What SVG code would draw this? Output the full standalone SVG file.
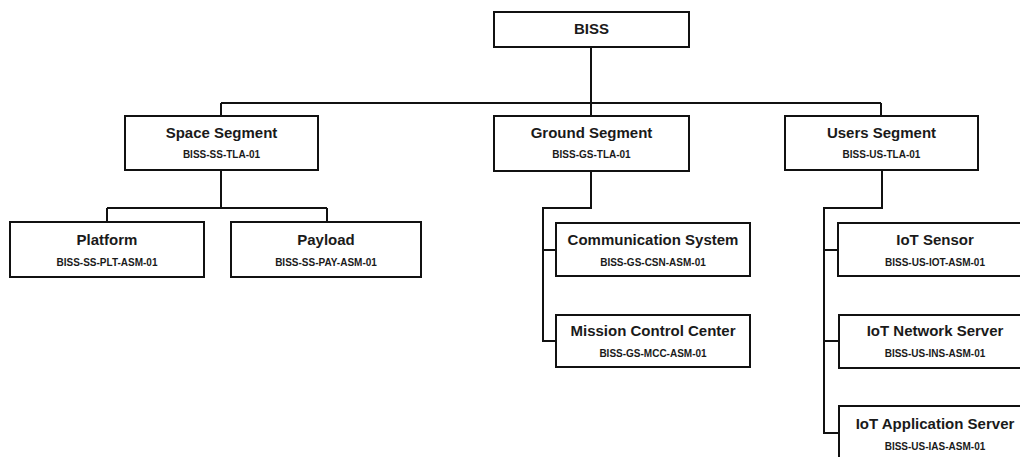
<svg xmlns="http://www.w3.org/2000/svg" width="1020" height="457" viewBox="0 0 1020 457">
<style>
.box{fill:#fff;stroke:#111;stroke-width:2}
.t{font-family:"Liberation Sans",Arial,sans-serif;font-weight:bold;font-size:15px;fill:#1a1a1a;text-anchor:middle}
.s{font-family:"Liberation Sans",Arial,sans-serif;font-weight:bold;font-size:10px;fill:#1a1a1a;text-anchor:middle}
.c{fill:none;stroke:#111;stroke-width:2}
</style>
<rect width="1020" height="457" fill="#fff"/>
<g id="connectors">
<path class="c" d="M591,47 V103 M221,103 H881 M221,103 V116 M591,103 V116 M881,103 V116"/>
<path class="c" d="M221,170 V208 M107,208 H327 M107,208 V222 M327,208 V222"/>
<path class="c" d="M591,171 V208 H543 V341 H556 M543,250 H556"/>
<path class="c" d="M882,170 V208 H824 V433 H839 M824,250 H838 M824,341 H839"/>
</g>
<g id="biss"><rect class="box" x="494" y="12" width="195" height="35"/><text class="t" x="591.5" y="34">BISS</text></g>
<g id="space"><rect class="box" x="125" y="116" width="193" height="54"/><text class="t" x="221.5" y="138">Space Segment</text><text class="s" x="221.5" y="158">BISS-SS-TLA-01</text></g>
<g id="ground"><rect class="box" x="494" y="116" width="195" height="55"/><text class="t" x="591.5" y="138">Ground Segment</text><text class="s" x="591.5" y="158">BISS-GS-TLA-01</text></g>
<g id="users"><rect class="box" x="785" y="116" width="193" height="54"/><text class="t" x="881.5" y="138">Users Segment</text><text class="s" x="881.5" y="158">BISS-US-TLA-01</text></g>
<g id="platform"><rect class="box" x="10" y="222" width="194" height="55"/><text class="t" x="107" y="245">Platform</text><text class="s" x="107" y="266">BISS-SS-PLT-ASM-01</text></g>
<g id="payload"><rect class="box" x="231" y="222" width="190" height="55"/><text class="t" x="326" y="245">Payload</text><text class="s" x="326" y="266">BISS-SS-PAY-ASM-01</text></g>
<g id="comm"><rect class="box" x="556" y="223" width="194" height="53"/><text class="t" x="653" y="245">Communication System</text><text class="s" x="653" y="266">BISS-GS-CSN-ASM-01</text></g>
<g id="mcc"><rect class="box" x="556" y="315" width="194" height="52"/><text class="t" x="653" y="336">Mission Control Center</text><text class="s" x="653" y="357">BISS-GS-MCC-ASM-01</text></g>
<g id="iotsensor"><rect class="box" x="838" y="223" width="194" height="53"/><text class="t" x="935" y="245">IoT Sensor</text><text class="s" x="935" y="266">BISS-US-IOT-ASM-01</text></g>
<g id="iotnet"><rect class="box" x="839" y="315" width="194" height="53"/><text class="t" x="935" y="336">IoT Network Server</text><text class="s" x="935" y="357">BISS-US-INS-ASM-01</text></g>
<g id="iotapp"><rect class="box" x="839" y="406" width="194" height="60"/><text class="t" x="935" y="429">IoT Application Server</text><text class="s" x="935" y="450">BISS-US-IAS-ASM-01</text></g>
</svg>
